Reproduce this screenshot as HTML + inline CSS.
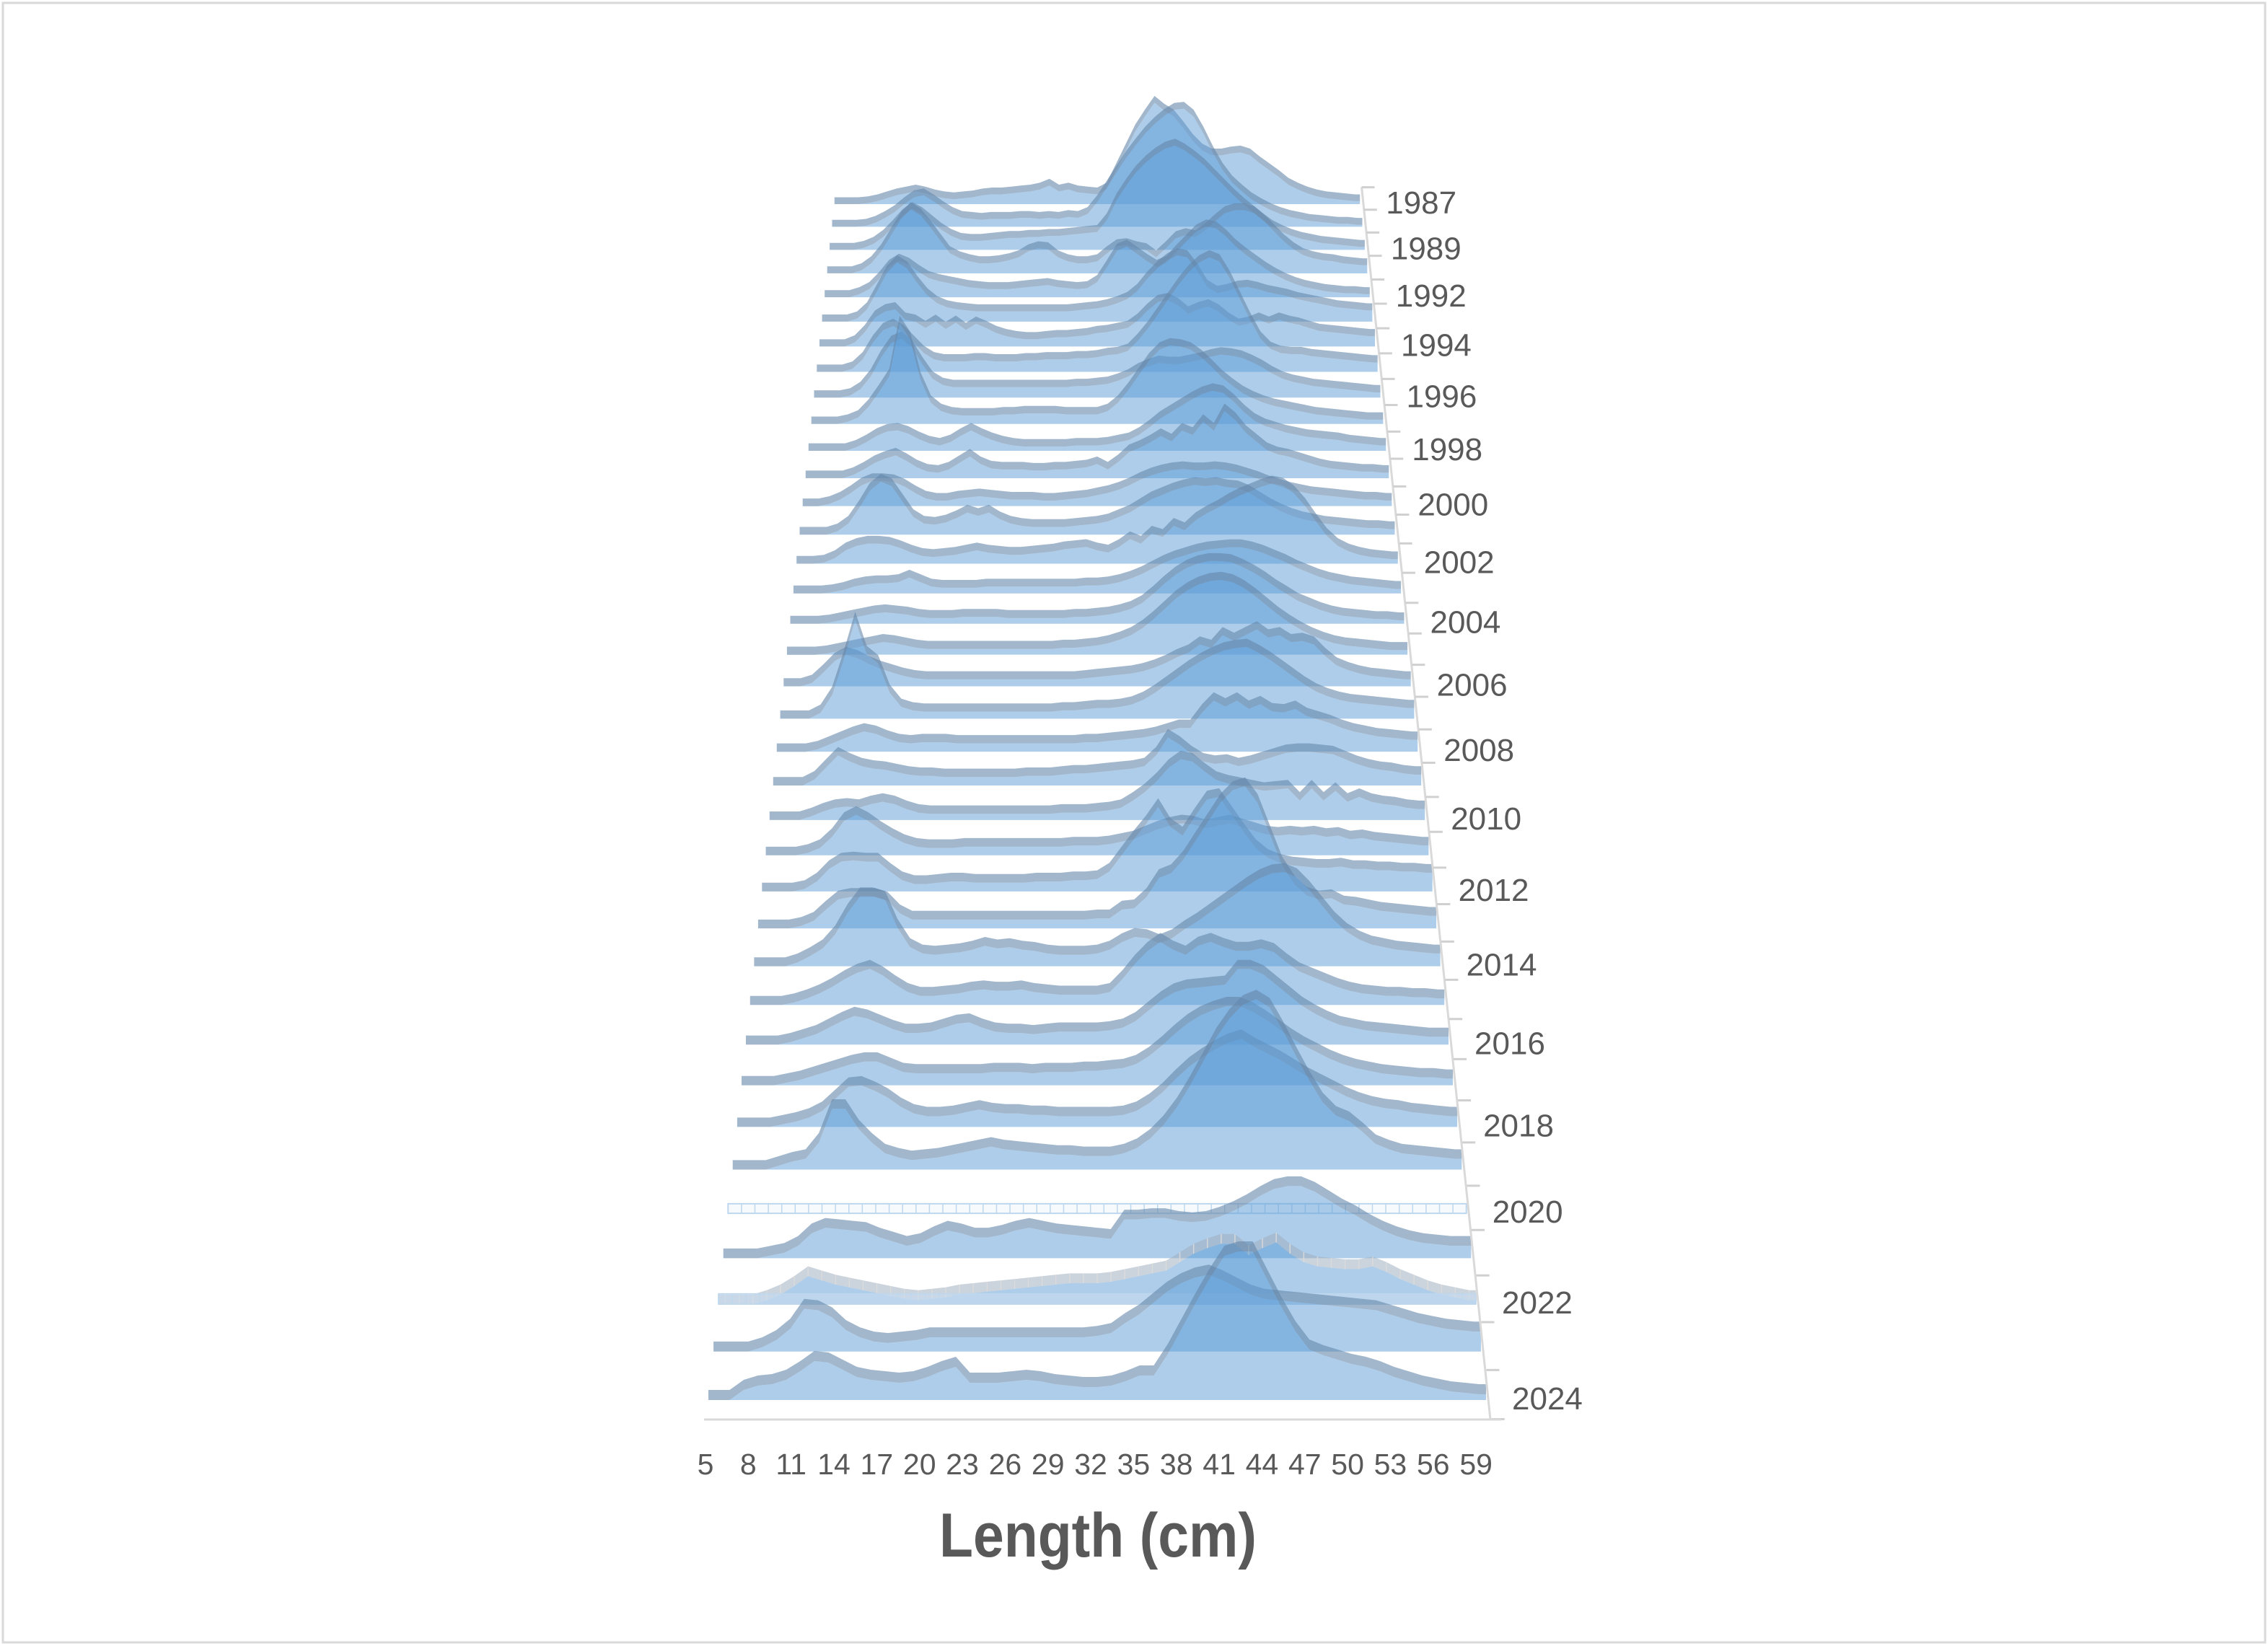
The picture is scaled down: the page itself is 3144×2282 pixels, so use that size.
<!DOCTYPE html>
<html>
<head>
<meta charset="utf-8">
<style>
  html, body { margin: 0; padding: 0; background: #ffffff; }
  svg { display: block; }
  text { font-family: "Liberation Sans", "DejaVu Sans", sans-serif; fill: #595959; }
</style>
</head>
<body>
<svg id="chart" width="3144" height="2282" viewBox="0 0 3144 2282" xmlns="http://www.w3.org/2000/svg">
  <rect x="4" y="4" width="3136" height="2273" fill="#ffffff" stroke="#d9d9d9" stroke-width="3"/>
  <g id="rows"></g>
  <g id="axes"></g>
  <text x="1522" y="2158" text-anchor="middle" font-size="86" font-weight="bold" textLength="440" lengthAdjust="spacingAndGlyphs">Length (cm)</text>
</svg>
<script>
// ---- data ----
const years = [1987,1988,1989,1991,1992,1993,1994,1995,1996,1997,1998,1999,2000,2001,2002,2003,2004,2005,2006,2007,2008,2009,2010,2011,2012,2013,2014,2015,2016,2017,2018,2019,2020,2021,2022,2023,2024];
const lengths = [5,6,7,8,9,10,11,12,13,14,15,16,17,18,19,20,21,22,23,24,25,26,27,28,29,30,31,32,33,34,35,36,37,38,39,40,41,42,43,44,45,46,47,48,49,50,51,52,53,54,55,56,57,58,59];
const xTickLabels = [5,8,11,14,17,20,23,26,29,32,35,38,41,44,47,50,53,56,59];

const y1987 = [0,0,0,0.1,0.3,0.6,0.9,1.1,1.3,1.1, 0.8,0.6,0.5,0.6,0.7,0.9,1.0,1.0,1.1,1.2, 1.3,1.5,1.9,1.3,1.5,1.2,1.1,1.0,1.5,3.5, 5.5,7.5,9.0,10.4,9.6,9.0,7.8,6.5,5.5,5.0, 5.0,5.2,5.3,5.0,4.2,3.5,2.8,2.0,1.5,1.1, 0.8,0.6,0.5,0.4,0.3];
const y1988 = [0,0,0,0.1,0.4,0.9,1.5,2.3,3.0,3.2, 2.6,1.9,1.3,0.9,0.8,0.7,0.8,0.8,0.8,0.9, 0.9,0.8,0.9,0.8,1.0,0.9,1.3,2.5,4.0,5.5, 7.0,8.3,9.5,10.5,11.3,11.9,12.0,11.2,9.5,7.5, 5.8,4.5,3.6,2.8,2.2,1.7,1.3,1.0,0.8,0.6, 0.5,0.4,0.3,0.3,0.2];
const y1989 = [0,0,0,0.2,0.6,1.3,2.3,3.4,4.1,3.6, 2.8,2.0,1.4,1.0,0.9,0.9,1.0,1.1,1.2,1.2, 1.3,1.3,1.4,1.4,1.5,1.6,1.7,1.8,3.0,5.0, 6.5,7.8,8.8,9.6,10.2,10.5,10.0,9.3,8.5,7.5, 6.5,5.5,4.6,3.8,3.0,2.3,1.8,1.4,1.1,0.9, 0.7,0.6,0.5,0.4,0.3];
const y1991 = [0,0,0,0.3,1.0,2.2,3.8,5.4,6.4,5.8, 4.6,3.3,2.0,1.5,1.2,1.0,1.0,1.1,1.3,1.6, 2.2,2.5,2.4,1.6,1.2,1.0,1.0,1.2,2.0,2.7, 2.8,2.5,2.3,1.6,2.5,3.5,3.8,3.6,4.3,5.2, 6.0,6.3,6.3,6.0,5.2,4.2,3.2,2.4,1.8,1.5, 1.3,1.2,1.0,0.9,0.8];
const y1992 = [0,0,0,0.3,0.8,1.8,3.0,3.6,3.2,2.5, 1.9,1.6,1.4,1.2,1.0,0.9,0.8,0.8,0.8,0.9, 1.0,1.1,1.2,1.0,0.9,0.8,0.9,1.5,3.0,4.6, 5.0,4.3,3.6,3.0,3.4,4.5,5.5,6.5,7.0,6.8, 6.0,5.0,4.2,3.5,2.8,2.2,1.7,1.3,1.0,0.8, 0.6,0.5,0.4,0.4,0.3];
const y1993 = [0,0,0,0.3,1.2,3.0,4.8,5.8,5.2,3.8, 2.6,1.8,1.4,1.2,1.1,1.0,1.0,1.0,1.0,1.0, 1.0,1.0,1.0,1.0,1.0,1.1,1.2,1.3,1.5,1.8, 2.2,3.0,4.2,5.2,6.0,6.5,6.3,5.0,3.4,2.8, 3.0,3.3,3.4,3.2,2.9,2.7,2.5,2.2,2.0,1.8, 1.6,1.4,1.3,1.2,1.1];
const y1994 = [0,0,0,0.4,1.4,2.8,3.4,3.6,2.6,2.4, 1.8,2.4,1.7,2.3,1.6,2.2,1.8,1.3,1.0,0.8, 0.7,0.7,0.8,0.9,0.9,1.0,1.1,1.3,1.4,1.6, 1.8,2.5,3.5,4.3,4.5,4.0,3.2,3.6,3.9,3.4, 2.6,2.0,2.2,2.6,2.2,2.6,2.3,2.1,1.8,1.5, 1.4,1.3,1.2,1.1,1.0];
const y1995 = [0,0,0,0.3,1.2,2.8,4.0,4.4,3.8,2.8, 1.8,1.2,1.0,1.0,1.0,1.1,1.1,1.0,1.0,1.0, 1.1,1.1,1.2,1.2,1.2,1.3,1.3,1.4,1.6,1.7, 2.0,3.0,4.2,5.6,7.0,8.4,9.6,10.5,11.0,10.6, 9.0,7.0,5.0,3.2,2.2,1.8,1.7,1.7,1.5,1.4, 1.3,1.2,1.1,1.0,0.9];
const y1996 = [0,0,0,0.2,0.8,2.0,3.8,5.2,5.6,4.8, 3.2,1.8,1.2,1.0,1.0,1.0,1.0,1.0,1.0,1.0, 1.0,1.0,1.0,1.0,1.0,1.1,1.1,1.2,1.3,1.6, 2.0,2.6,3.0,3.3,3.2,3.2,3.4,3.6,3.9,4.1, 4.0,3.8,3.4,2.9,2.3,1.8,1.5,1.3,1.1,1.0, 0.9,0.8,0.7,0.6,0.5];
const y1997 = [0,0,0,0.2,0.6,1.6,3.0,4.5,9.5,8.0, 4.2,2.0,1.2,0.9,0.8,0.8,0.8,0.8,0.9,0.9, 1.0,1.0,1.0,1.0,0.9,0.9,0.9,0.9,1.2,2.0, 3.2,4.6,6.0,7.0,7.4,7.3,7.0,6.3,5.4,4.4, 3.6,2.9,2.4,2.0,1.7,1.5,1.3,1.1,0.9,0.8, 0.7,0.6,0.5,0.4,0.4];
const y1998 = [0,0,0,0,0.3,0.8,1.4,1.8,1.9,1.6, 1.1,0.7,0.5,0.8,1.4,1.9,1.4,1.0,0.7,0.5, 0.4,0.4,0.4,0.4,0.4,0.5,0.5,0.5,0.6,0.8, 1.0,1.5,2.2,3.0,3.6,4.2,4.8,5.3,5.6,5.4, 4.6,3.6,2.8,2.3,2.0,1.7,1.5,1.3,1.2,1.1, 1.0,0.8,0.7,0.6,0.5];
const y1999 = [0,0,0,0,0.3,0.8,1.4,1.8,2.1,1.6, 1.0,0.6,0.5,0.8,1.4,2.0,1.3,0.9,0.8,0.8, 0.8,0.7,0.7,0.8,0.8,0.9,1.0,1.3,0.8,1.5, 2.4,2.8,3.3,3.9,3.4,4.4,4.0,5.2,4.4,6.2, 5.4,4.2,3.4,2.6,2.2,2.0,1.7,1.4,1.1,0.9, 0.8,0.7,0.6,0.6,0.5];
const y2000 = [0,0,0.2,0.6,1.2,1.9,2.3,2.3,2.2,1.8, 1.2,0.7,0.5,0.5,0.7,0.8,0.9,0.8,0.7,0.6, 0.6,0.6,0.5,0.5,0.6,0.7,0.8,1.0,1.2,1.5, 1.9,2.4,2.8,3.1,3.3,3.4,3.3,3.3,3.4,3.3, 3.1,2.8,2.5,2.1,1.8,1.5,1.3,1.1,1.0,0.9, 0.8,0.7,0.6,0.6,0.5];
const y2001 = [0,0,0,0.3,1.0,2.4,4.0,4.8,4.4,3.0, 1.6,1.0,0.9,1.1,1.5,2.0,1.7,2.0,1.4,1.0, 0.8,0.7,0.7,0.7,0.7,0.8,0.9,1.0,1.2,1.6, 2.0,2.6,3.2,3.6,4.0,4.3,4.5,4.4,4.5,4.3, 4.2,3.8,3.2,2.6,2.1,1.7,1.4,1.2,1.0,0.9, 0.8,0.7,0.6,0.6,0.5];
const y2002 = [0,0,0.1,0.5,1.2,1.6,1.8,1.8,1.7,1.4, 1.0,0.7,0.6,0.7,0.8,1.0,1.2,1.0,0.9,0.8, 0.8,0.9,1.0,1.1,1.3,1.4,1.5,1.2,1.0,1.5, 2.2,1.8,2.7,2.4,3.4,3.0,3.9,4.5,5.0,5.6, 6.1,6.5,6.9,7.2,7.0,6.3,5.2,3.8,2.5,1.6, 1.1,0.8,0.6,0.5,0.4];
const y2003 = [0,0,0,0.1,0.3,0.6,0.8,0.9,0.9,1.0, 1.4,1.0,0.6,0.5,0.5,0.5,0.5,0.6,0.6,0.6, 0.6,0.6,0.6,0.6,0.6,0.6,0.7,0.7,0.8,1.0, 1.3,1.7,2.2,2.7,3.1,3.4,3.7,3.9,4.0,4.1, 4.1,3.9,3.6,3.2,2.8,2.3,1.9,1.5,1.2,1.0, 0.8,0.7,0.6,0.5,0.4];
const y2004 = [0,0,0,0.1,0.3,0.5,0.7,0.9,1.0,0.9, 0.8,0.6,0.5,0.5,0.5,0.6,0.6,0.6,0.6,0.5, 0.5,0.5,0.5,0.5,0.5,0.6,0.6,0.7,0.8,1.0, 1.3,1.8,2.6,3.5,4.3,4.9,5.3,5.5,5.5,5.4, 5.0,4.5,3.9,3.2,2.6,2.0,1.6,1.2,0.9,0.7, 0.6,0.5,0.4,0.4,0.3];
const y2005 = [0,0,0,0.1,0.3,0.5,0.7,0.9,1.1,1.0, 0.8,0.6,0.5,0.5,0.5,0.5,0.5,0.5,0.5,0.5, 0.5,0.5,0.5,0.5,0.6,0.6,0.7,0.8,1.0,1.3, 1.7,2.3,3.1,4.0,4.9,5.6,6.1,6.4,6.5,6.3, 5.8,5.1,4.3,3.5,2.8,2.2,1.7,1.3,1.0,0.8, 0.7,0.6,0.5,0.4,0.4];
const y2006 = [0,0,0.3,1.2,2.2,2.7,2.4,1.9,1.5,1.2, 0.9,0.7,0.6,0.6,0.6,0.6,0.6,0.6,0.6,0.6, 0.6,0.6,0.6,0.6,0.6,0.6,0.7,0.8,0.9,1.0, 1.1,1.3,1.6,2.0,2.5,2.9,3.6,3.3,4.4,3.9, 4.4,4.9,4.2,4.4,3.8,3.9,3.6,2.6,1.8,1.4, 1.1,0.9,0.8,0.7,0.6];
const y2007 = [0,0,0,0.5,2.0,5.0,8.4,5.5,4.7,2.2, 1.0,0.7,0.6,0.6,0.6,0.6,0.6,0.6,0.6,0.6, 0.6,0.6,0.6,0.6,0.7,0.7,0.8,0.9,0.9,1.0, 1.2,1.6,2.2,2.9,3.6,4.3,4.9,5.4,5.8,6.0, 6.1,5.6,5.0,4.3,3.6,2.9,2.3,1.9,1.6,1.4, 1.3,1.2,1.1,1.0,0.9];
const y2008 = [0,0,0,0.2,0.6,1.0,1.4,1.7,1.5,1.1, 0.8,0.7,0.8,0.8,0.8,0.7,0.7,0.7,0.7,0.7, 0.7,0.7,0.7,0.7,0.7,0.7,0.8,0.8,0.9,1.0, 1.1,1.2,1.4,1.7,2.0,2.0,3.3,4.3,3.8,4.3, 3.6,4.0,3.4,3.3,3.6,3.0,2.7,2.4,2.0,1.7, 1.5,1.3,1.2,1.1,1.0];
const y2009 = [0,0,0,0.5,1.5,2.5,2.0,1.6,1.4,1.3, 1.1,0.9,0.8,0.8,0.7,0.7,0.7,0.7,0.7,0.7, 0.7,0.8,0.8,0.8,0.9,1.0,1.0,1.1,1.2,1.3, 1.4,1.6,2.5,4.0,3.4,2.6,2.0,1.8,1.9,1.6, 1.8,2.1,2.4,2.7,2.8,2.8,2.7,2.6,2.2,1.8, 1.5,1.3,1.2,1.0,0.9];
const y2010 = [0,0,0,0.3,0.7,1.0,1.1,1.0,1.3,1.5, 1.3,0.9,0.6,0.5,0.5,0.5,0.5,0.5,0.5,0.5, 0.5,0.5,0.5,0.5,0.6,0.6,0.6,0.7,0.8,1.0, 1.6,2.3,3.2,4.3,5.0,4.8,4.0,3.3,3.0,2.8, 2.6,2.4,2.5,2.6,1.6,2.6,1.6,2.4,1.5,1.9, 1.5,1.3,1.2,1.0,0.9];
const y2011 = [0,0,0,0.2,0.6,1.5,2.8,3.3,2.8,2.1, 1.5,1.0,0.7,0.6,0.6,0.6,0.7,0.7,0.7,0.7, 0.7,0.7,0.7,0.7,0.7,0.8,0.8,0.8,0.9,1.1, 1.3,1.7,2.1,2.4,2.6,2.5,2.2,2.4,2.6,2.3, 2.0,1.7,1.6,1.7,1.6,1.7,1.5,1.6,1.3,1.4, 1.2,1.1,1.0,0.9,0.8];
const y2012 = [0,0,0,0.2,0.8,1.8,2.4,2.5,2.4,2.4, 1.6,0.9,0.6,0.6,0.7,0.8,0.8,0.7,0.7,0.7, 0.7,0.7,0.8,0.8,0.8,0.9,0.9,1.0,1.6,2.9, 4.2,5.4,6.8,5.2,4.5,6.0,7.4,7.6,6.2,4.8, 3.5,2.7,2.3,2.1,2.0,1.9,1.9,2.0,1.8,1.8, 1.7,1.7,1.6,1.6,1.5];
const y2013 = [0,0,0,0.2,0.6,1.5,2.3,2.5,2.5,2.5, 2.2,1.2,0.7,0.7,0.7,0.7,0.7,0.7,0.7,0.7, 0.7,0.7,0.7,0.7,0.7,0.7,0.7,0.8,0.8,1.5, 1.6,2.5,4.0,4.4,5.5,7.0,8.5,10.0,11.0,11.3, 10.0,7.5,5.0,3.5,2.6,2.3,2.4,1.9,1.8,1.6, 1.4,1.3,1.2,1.1,1.0];
const y2014 = [0,0,0,0.3,0.8,1.4,2.5,4.2,5.5,5.5, 5.2,3.0,1.5,1.0,0.9,1.0,1.1,1.3,1.6,1.4, 1.5,1.3,1.2,1.0,0.9,0.9,0.9,1.0,1.3,1.9, 2.3,2.2,1.8,2.2,2.9,3.5,4.2,4.9,5.6,6.3, 6.9,7.3,7.4,7.0,6.0,4.8,3.6,2.7,2.1,1.7, 1.5,1.3,1.2,1.1,1.0];
const y2015 = [0,0,0,0.2,0.5,0.9,1.4,2.0,2.5,2.8, 2.3,1.6,1.0,0.7,0.7,0.8,0.9,1.1,1.2,1.1, 1.1,1.2,1.0,0.9,0.8,0.8,0.8,0.8,1.0,2.0, 3.2,4.2,4.9,4.3,3.9,4.6,4.9,4.5,4.2,4.2, 4.4,4.1,3.3,2.6,2.2,1.8,1.4,1.1,0.9,0.8, 0.7,0.7,0.6,0.6,0.5];
const y2016 = [0,0,0,0.2,0.5,0.8,1.3,1.8,2.2,2.0, 1.6,1.2,0.9,0.9,1.0,1.3,1.6,1.7,1.3,1.0, 0.9,0.9,0.8,0.9,1.0,1.0,1.0,1.0,1.1,1.3, 1.8,2.6,3.4,4.0,4.3,4.4,4.5,4.6,5.8,5.8, 5.4,4.6,3.8,3.0,2.4,1.9,1.5,1.3,1.1,1.0, 0.9,0.8,0.7,0.6,0.6];
const y2017 = [0,0,0,0.2,0.4,0.7,1.0,1.3,1.6,1.8, 1.8,1.4,1.0,0.9,0.9,0.9,0.9,0.9,0.9,1.0, 1.0,1.0,0.9,1.0,1.0,1.0,1.1,1.1,1.2,1.3, 1.6,2.2,3.0,3.9,4.7,5.3,5.7,6.0,6.0,5.6, 5.0,4.3,3.6,3.0,2.5,2.0,1.6,1.3,1.1,0.9, 0.8,0.7,0.6,0.6,0.5];
const y2018 = [0,0,0,0.2,0.4,0.7,1.2,2.1,3.0,3.1, 2.7,2.2,1.5,1.0,0.8,0.8,0.9,1.1,1.3,1.1, 1.0,1.0,0.9,0.9,0.8,0.8,0.8,0.8,0.8,0.9, 1.2,1.8,2.6,3.6,4.5,5.2,5.8,6.3,6.6,6.0, 5.5,5.0,4.4,3.8,3.3,2.8,2.3,1.9,1.6,1.4, 1.3,1.1,1.0,0.9,0.8];
const y2019 = [0,0,0,0.3,0.6,0.8,2.0,4.5,4.5,3.0, 2.0,1.2,0.9,0.7,0.8,0.9,1.1,1.3,1.5,1.7, 1.5,1.4,1.3,1.2,1.1,1.1,1.0,1.0,1.0,1.2, 1.6,2.3,3.3,4.6,6.2,8.0,9.8,11.2,12.2,12.6, 12.0,10.3,8.4,6.6,5.0,4.0,3.6,2.8,1.9,1.5, 1.2,1.1,1.0,0.9,0.8];
const y2020 = null;
const y2021 = [0,0,0,0.2,0.4,0.9,1.8,2.2,2.1,2.0, 1.9,1.5,1.2,0.9,1.1,1.6,2.0,1.8,1.5,1.5, 1.7,2.0,2.2,2.0,1.8,1.7,1.6,1.5,1.4,2.8, 2.8,2.9,2.9,2.7,2.6,2.7,3.0,3.4,3.9,4.5, 5.0,5.2,5.2,4.8,4.2,3.6,3.1,2.5,2.0,1.6, 1.3,1.1,1.0,0.9,0.9];
const y2022 = [0,0,0,0.3,0.7,1.3,2.0,1.7,1.4,1.2, 1.0,0.8,0.6,0.4,0.3,0.4,0.5,0.7,0.8,0.9, 1.0,1.1,1.2,1.3,1.4,1.5,1.5,1.5,1.6,1.8, 2.0,2.2,2.4,3.0,3.6,4.0,4.3,4.3,3.5,4.0, 4.4,3.6,3.0,2.7,2.6,2.5,2.5,2.7,2.3,1.8, 1.4,1.0,0.7,0.5,0.3];
const y2023 = [0,0,0,0.3,0.8,1.6,3.0,2.9,2.4,1.5, 1.0,0.7,0.6,0.7,0.8,1.0,1.0,1.0,1.0,1.0, 1.0,1.0,1.0,1.0,1.0,1.0,1.0,1.1,1.3,2.0, 2.6,3.4,4.2,4.8,5.2,5.4,5.0,4.5,4.0,3.7, 3.6,3.5,3.4,3.3,3.2,3.1,3.0,2.9,2.6,2.3, 2.0,1.8,1.6,1.5,1.4];
const y2024 = [0,0,0.7,1.0,1.1,1.4,2.0,2.7,2.6,2.1, 1.6,1.4,1.3,1.2,1.3,1.6,2.0,2.3,1.2,1.2, 1.2,1.3,1.4,1.3,1.1,1.0,0.9,0.9,1.0,1.3, 1.7,1.7,3.2,5.0,6.8,8.5,10.0,10.3,10.3,8.4, 6.5,4.8,3.5,3.1,2.8,2.5,2.3,2.0,1.6,1.3, 1.0,0.8,0.6,0.5,0.4];

const series = [y1987,y1988,y1989,y1991,y1992,y1993,y1994,y1995,y1996,y1997,y1998,y1999,y2000,y2001,y2002,y2003,y2004,y2005,y2006,y2007,y2008,y2009,y2010,y2011,y2012,y2013,y2014,y2015,y2016,y2017,y2018,y2019,y2020,y2021,y2022,y2023,y2024];
const hatchedYears = [2020, 2022];

// ---- axis / projection functions ----
const NS = 'http://www.w3.org/2000/svg';
const nRows = years.length;
const nCat = lengths.length;
function depth(k){ return (nRows - 1) - k; }
function scaleOf(k){ return 75 / (75 + depth(k)); }
function baseY(k){ return 1941 - 383415 * (1/75 - 1/(75 + depth(k))); }
function rowWidth(k){ return 1078 * scaleOf(k); }
function rowLeft(k){ return 1521 - rowWidth(k) / 2; }
function rowRight(k){ return rowLeft(k) + rowWidth(k); }
function xPos(k, i){ return rowLeft(k) + rowWidth(k) * (i + 0.5) / nCat; }
function yPos(k, v){ return baseY(k) - v * 20 * scaleOf(k); }
function xAxisPos(len){ return 978 + (len - lengths[0]) * 19.78; }

function mk(tag, attrs){
  const el = document.createElementNS(NS, tag);
  for (const a in attrs) el.setAttribute(a, attrs[a]);
  return el;
}
const rowsG = document.getElementById('rows');
const axesG = document.getElementById('axes');

for (let k = 0; k < nRows; k++) {
  const data = series[k];
  const s = scaleOf(k);
  const b = baseY(k);
  const L = rowLeft(k), R = rowRight(k);
  const d = 14 * s;
  const g = mk('g', {});
  
  
  const hatched = hatchedYears.indexOf(years[k]) >= 0;
  if (!data) {
    const r = mk('rect', {x: L, y: b - d, width: R - L, height: d, fill: '#f6fafd', stroke: '#bdd7ee', 'stroke-width': 2});
    
    
    g.appendChild(r);
    for (let i = 0; i <= nCat; i++) {
      const x = L + (R - L) * i / nCat;
      const ln = mk('line', {x1: x, y1: b - d, x2: x, y2: b, stroke: '#bdd7ee', 'stroke-width': 1.5});
      
      
      g.appendChild(ln);
    }
    rowsG.appendChild(g);
    continue;
  }
  const pts = [[L, yPos(k, data[0])]];
  for (let i = 0; i < nCat; i++) pts.push([xPos(k, i), yPos(k, data[i])]);
  pts.push([R, yPos(k, data[nCat - 1])]);
  let dA = 'M' + L + ',' + b;
  pts.forEach(p => { dA += ' L' + p[0].toFixed(1) + ',' + p[1].toFixed(1); });
  dA += ' L' + R + ',' + b + ' Z';
  const area = mk('path', {d: dA, fill: 'rgba(91,155,213,0.5)'});
  
  
  g.appendChild(area);
  let dB = 'M' + pts[0][0].toFixed(1) + ',' + (pts[0][1] - d).toFixed(1);
  for (let i = 1; i < pts.length; i++) dB += ' L' + pts[i][0].toFixed(1) + ',' + (pts[i][1] - d).toFixed(1);
  for (let i = pts.length - 1; i >= 0; i--) dB += ' L' + pts[i][0].toFixed(1) + ',' + pts[i][1].toFixed(1);
  dB += ' Z';
  const band = mk('path', {d: dB, fill: hatched ? 'rgba(160,175,192,0.55)' : 'rgba(100,135,170,0.6)', stroke: 'none'});
  
  
  g.appendChild(band);
  if (hatched) {
    for (let i = 0; i < pts.length; i++) {
      const ln = mk('line', {x1: pts[i][0], y1: pts[i][1] - d, x2: pts[i][0], y2: pts[i][1], stroke: 'rgba(220,220,220,0.9)', 'stroke-width': 1.5});
      
      
      g.appendChild(ln);
    }
    const fr = mk('rect', {x: L, y: b - 15 * s, width: R - L, height: 15 * s, fill: 'rgba(200,220,240,0.6)', stroke: '#bdd7ee', 'stroke-width': 1.5});
    
    
    g.appendChild(fr);
    for (let i = 0; i <= nCat; i++) {
      const x = L + (R - L) * i / nCat;
      const ln = mk('line', {x1: x, y1: b - 15 * s, x2: x, y2: b, stroke: '#bdd7ee', 'stroke-width': 1.2});
      
      
      g.appendChild(ln);
    }
  }
  rowsG.appendChild(g);
}

// ---- right (series) axis ----
function tickY(k){ return (baseY(k - 1) + baseY(k)) / 2 - 8; }
function tickX(k){ return (rowRight(k - 1) + rowRight(k)) / 2 + 4; }
const topX = tickX(0), topY = tickY(0);
const axLine = mk('line', {x1: topX, y1: topY, x2: 2066, y2: 1968, stroke: '#d9d9d9', 'stroke-width': 3});


axesG.appendChild(axLine);
for (let k = 0; k <= nRows; k++) {
  const tx = tickX(k), ty = tickY(k);
  const t = mk('line', {x1: tx, y1: ty, x2: tx + 18, y2: ty, stroke: '#d0d0d0', 'stroke-width': 3});
  
  
  axesG.appendChild(t);
}
for (let k = 0; k < nRows; k += 2) {
  const tx = mk('text', {x: rowRight(k) + 36, y: baseY(k) + 13, 'font-size': 44});
  tx.textContent = years[k];
  
  
  axesG.appendChild(tx);
}

// ---- bottom (length) axis ----
const xLine = mk('line', {x1: 976, y1: 1968, x2: 2081, y2: 1968, stroke: '#d9d9d9', 'stroke-width': 3});


axesG.appendChild(xLine);
xTickLabels.forEach(v => {
  const t = mk('text', {x: xAxisPos(v), y: 2044, 'font-size': 41, 'text-anchor': 'middle'});
  t.textContent = v;
  
  
  axesG.appendChild(t);
});
</script>
</body>
</html>
